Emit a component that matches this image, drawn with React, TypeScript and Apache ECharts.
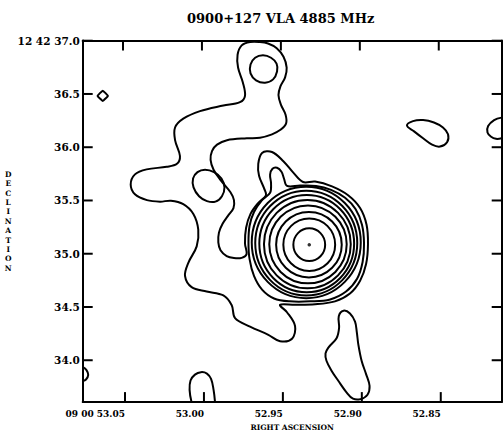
import React, { useEffect, useRef } from 'react';
import * as echarts from 'echarts';

const TITLE = '0900+127 VLA 4885 MHz';
const X_NAME = 'RIGHT ASCENSION';
const Y_NAME = 'DECLINATION';

// Axis extents (RA seconds, Dec arcsec)
const RA_MIN = 52.8114;
const RA_MAX = 53.0768;
const DEC_MIN = 33.607;
const DEC_MAX = 37.002;

const RA_TICKS = [53.05, 53.0, 52.95, 52.9, 52.85];
const DEC_TICKS = [37.0, 36.5, 36.0, 35.5, 35.0, 34.5, 34.0];

// Peak position [RA, Dec]
const PEAK = [[52.9333, 35.085]];

// Inner concentric contours: [RA centre, Dec centre, semi-axis in RA (s), semi-axis in Dec (")]
const RINGS = [
  [52.9333, 35.085, 0.01007, 0.154],
  [52.9333, 35.085, 0.01641, 0.246],
  [52.9335, 35.085, 0.02078, 0.307],
  [52.9341, 35.088, 0.02452, 0.366],
  [52.9345, 35.09, 0.02749, 0.415],
  [52.9349, 35.095, 0.03003, 0.457],
  [52.9352, 35.1, 0.03231, 0.492],
  [52.9352, 35.106, 0.03453, 0.523],
];

// Lowest contour: S-shaped band joined to the source
const OUTER = [
  [52.9708, 36.988], [52.9761, 36.956], [52.9787, 36.868], [52.9784, 36.748], [52.9754, 36.61],
  [52.974, 36.483], [52.9772, 36.423], [52.9877, 36.391], [53.0025, 36.339], [53.0131, 36.268],
  [53.0183, 36.185], [53.0183, 36.066], [53.0152, 35.918], [53.0171, 35.844], [53.0236, 35.816],
  [53.0363, 35.792], [53.0437, 35.745], [53.0464, 35.65], [53.0437, 35.558], [53.0361, 35.503],
  [53.0278, 35.489], [53.0209, 35.498], [53.0131, 35.466], [53.0067, 35.374], [53.0036, 35.226],
  [53.0046, 35.069], [53.0099, 34.915], [53.012, 34.792], [53.0078, 34.686], [52.9983, 34.645],
  [52.9877, 34.608], [52.9824, 34.516], [52.9803, 34.396], [52.9708, 34.316], [52.9592, 34.239],
  [52.9518, 34.179], [52.9442, 34.202], [52.9423, 34.322], [52.9474, 34.451], [52.9518, 34.52],
  [52.9423, 34.52], [52.9296, 34.525], [52.917, 34.553], [52.9075, 34.626], [52.9011, 34.746],
  [52.8973, 34.903], [52.8961, 35.088], [52.897, 35.272], [52.9011, 35.429], [52.9087, 35.549],
  [52.9189, 35.632], [52.9296, 35.678], [52.9372, 35.673], [52.9434, 35.761], [52.9497, 35.869],
  [52.9569, 35.955], [52.9632, 35.946], [52.9656, 35.844], [52.9651, 35.733], [52.9619, 35.613],
  [52.9607, 35.549], [52.9657, 35.475], [52.9705, 35.374], [52.9733, 35.244], [52.974, 35.097],
  [52.973, 34.995], [52.9761, 34.961], [52.981, 34.959], [52.9856, 34.977], [52.9895, 35.032],
  [52.9909, 35.106], [52.9905, 35.198], [52.9882, 35.281], [52.9848, 35.355], [52.9813, 35.429],
  [52.981, 35.503], [52.9832, 35.577], [52.9892, 35.687], [52.9939, 35.789], [52.9958, 35.881],
  [52.9949, 35.964], [52.9917, 36.024], [52.9854, 36.066], [52.9729, 36.084], [52.9645, 36.089],
  [52.9569, 36.121], [52.9518, 36.161], [52.948, 36.222], [52.9483, 36.305], [52.9512, 36.398],
  [52.9528, 36.49], [52.9515, 36.573], [52.9486, 36.656], [52.9476, 36.748], [52.9496, 36.85],
  [52.9539, 36.93], [52.9594, 36.974], [52.9645, 36.988],
];

// Second contour round the source, with its small finger
const SECOND = [
  [52.9718, 35.106], [52.9711, 35.263], [52.9683, 35.392], [52.9632, 35.503], [52.9581, 35.572],
  [52.9575, 35.66], [52.9581, 35.743], [52.9566, 35.798], [52.9537, 35.807], [52.9509, 35.77],
  [52.9493, 35.706], [52.9474, 35.637], [52.9391, 35.641], [52.929, 35.637], [52.9195, 35.6],
  [52.9106, 35.526], [52.904, 35.42], [52.8999, 35.272], [52.8986, 35.097], [52.8995, 34.922],
  [52.903, 34.765], [52.91, 34.645], [52.9201, 34.571], [52.9328, 34.553], [52.9455, 34.553],
  [52.9556, 34.58], [52.9632, 34.663], [52.9683, 34.792], [52.9711, 34.949],
];

const LOBE_LOOP = [
  [52.9626, 36.863], [52.9575, 36.84], [52.954, 36.785], [52.9537, 36.711], [52.9562, 36.637],
  [52.9613, 36.605], [52.967, 36.628], [52.9705, 36.693], [52.9705, 36.776], [52.9676, 36.84],
];

const WEST_LOOP = [
  [52.9993, 35.789], [52.9936, 35.766], [52.9889, 35.706], [52.987, 35.623], [52.9886, 35.54],
  [52.9927, 35.489], [52.9981, 35.494], [53.0031, 35.54], [53.0066, 35.623], [53.0069, 35.706],
  [53.0041, 35.766],
];

const EAST_BLOB = [
  [52.8714, 36.204], [52.8676, 36.245], [52.8612, 36.255], [52.8543, 36.232], [52.8486, 36.185],
  [52.8454, 36.121], [52.846, 36.047], [52.8505, 36.006], [52.8555, 36.024], [52.8612, 36.084],
  [52.8669, 36.149],
];

const EDGE_EAST = [
  [52.8115, 36.278], [52.8162, 36.255], [52.82, 36.199], [52.8204, 36.139], [52.8181, 36.098],
  [52.815, 36.079], [52.8115, 36.084],
];

const DIAMOND = [
  [53.0641, 36.531], [53.0608, 36.482], [53.0641, 36.435], [53.0674, 36.482],
];

const EDGE_WEST = [
  [53.0767, 33.935], [53.0744, 33.907], [53.0733, 33.861], [53.0747, 33.819], [53.0767, 33.805],
];

const SOUTH_ARCH = [
  [53.0079, 33.609], [53.0091, 33.722], [53.0085, 33.81], [53.0057, 33.865], [53.0019, 33.888],
  [52.9981, 33.875], [52.9955, 33.824], [52.9939, 33.722], [52.993, 33.609],
];

const SOUTH_BLOB = [
  [52.9116, 34.465], [52.9075, 34.439], [52.9043, 34.362], [52.9032, 34.267], [52.9022, 34.147],
  [52.9001, 33.993], [52.8973, 33.87], [52.8951, 33.759], [52.8964, 33.676], [52.9008, 33.635],
  [52.9056, 33.639], [52.9097, 33.699], [52.9148, 33.805], [52.9191, 33.9], [52.9224, 33.995],
  [52.923, 34.064], [52.9212, 34.119], [52.916, 34.207], [52.9144, 34.304], [52.9146, 34.414],
];

type Contour = { pts: number[][]; closed: boolean; smooth: number };

const CONTOURS: Contour[] = [
  { pts: OUTER, closed: true, smooth: 0.35 },
  { pts: SECOND, closed: true, smooth: 0.35 },
  { pts: LOBE_LOOP, closed: true, smooth: 0.4 },
  { pts: WEST_LOOP, closed: true, smooth: 0.4 },
  { pts: EAST_BLOB, closed: true, smooth: 0.4 },
  { pts: EDGE_EAST, closed: false, smooth: 0.4 },
  { pts: DIAMOND, closed: true, smooth: 0.1 },
  { pts: EDGE_WEST, closed: false, smooth: 0.4 },
  { pts: SOUTH_ARCH, closed: false, smooth: 0.4 },
  { pts: SOUTH_BLOB, closed: true, smooth: 0.35 },
];

const FONT = 'DejaVu Serif';

export default function App() {
  const ref = useRef<HTMLDivElement>(null);

  useEffect(() => {
    if (!ref.current) return;
    const chart = echarts.init(ref.current, null, { renderer: 'svg' });

    const raFmt = (v: number) => (Math.abs(v - 53.05) < 1e-6 ? '09 00 53.05' : v.toFixed(2));
    const decFmt = (v: number) => (Math.abs(v - 37.0) < 1e-6 ? '12 42 37.0' : v.toFixed(1));

    const axisLine = { show: true, onZero: false, lineStyle: { color: '#000', width: 2 } };
    const tickSeries = (data: number[][], size: number[], offset: number[]) => ({
      type: 'scatter',
      xAxisIndex: 0,
      yAxisIndex: 0,
      clip: false,
      silent: true,
      z: 8,
      data,
      symbol: 'rect',
      symbolSize: size,
      symbolOffset: offset,
      itemStyle: { color: '#000', opacity: 1 },
    });

    chart.setOption({
      animation: false,
      backgroundColor: '#fff',
      title: {
        text: TITLE,
        left: 182,
        top: 7,
        textStyle: { fontFamily: FONT, fontWeight: 'bold', fontSize: 13, color: '#000' },
      },
      grid: { left: 82.7, right: 1.3, top: 40.5, bottom: 27.5, containLabel: false },
      xAxis: [
        {
          type: 'value',
          position: 'bottom',
          inverse: true,
          min: RA_MIN,
          max: RA_MAX,
          axisLine,
          splitLine: { show: false },
          axisTick: { show: false },
          axisLabel: {
            show: true,
            customValues: RA_TICKS.slice(),
            formatter: raFmt,
            align: 'right',
            margin: 7,
            fontFamily: FONT,
            fontWeight: 'bold',
            fontSize: 9,
            color: '#000',
          },
          name: X_NAME,
          nameLocation: 'middle',
          nameGap: 16,
          nameTextStyle: { fontFamily: FONT, fontWeight: 'bold', fontSize: 7.5, color: '#000' },
        },
        {
          type: 'value',
          position: 'top',
          inverse: true,
          min: RA_MIN,
          max: RA_MAX,
          axisLine,
          splitLine: { show: false },
          axisTick: { show: false },
          axisLabel: { show: false },
        },
      ],
      yAxis: [
        {
          type: 'value',
          position: 'left',
          min: DEC_MIN,
          max: DEC_MAX,
          axisLine,
          splitLine: { show: false },
          axisTick: { show: false },
          axisLabel: {
            show: true,
            customValues: DEC_TICKS.slice(),
            formatter: decFmt,
            margin: 3,
            fontFamily: FONT,
            fontWeight: 'bold',
            fontSize: 10.5,
            color: '#000',
          },
          name: Y_NAME.split('').join('\n'),
          nameLocation: 'middle',
          nameRotate: 0,
          nameGap: 68,
          nameTextStyle: {
            fontFamily: FONT,
            fontWeight: 'bold',
            fontSize: 7.5,
            lineHeight: 9.4,
            color: '#000',
            align: 'center',
            verticalAlign: 'middle',
            padding: [0, 0, 32, 0],
          },
        },
        {
          type: 'value',
          position: 'right',
          min: DEC_MIN,
          max: DEC_MAX,
          axisLine,
          splitLine: { show: false },
          axisTick: { show: false },
          axisLabel: { show: false },
        },
      ],
      series: [
        {
          type: 'custom',
          name: 'contours',
          xAxisIndex: 0,
          yAxisIndex: 0,
          clip: false,
          silent: true,
          data: CONTOURS.map((c) => [c.pts[0][0], c.pts[0][1]]),
          encode: { x: 0, y: 1 },
          renderItem: (params: any, api: any) => {
            const c = CONTOURS[params.dataIndex];
            const points = c.pts.map((p) => api.coord(p));
            return {
              type: c.closed ? 'polygon' : 'polyline',
              shape: { points, smooth: c.smooth },
              style: { fill: 'none', stroke: '#000', lineWidth: 2 },
            };
          },
        },
        {
          type: 'custom',
          name: 'rings',
          xAxisIndex: 0,
          yAxisIndex: 0,
          silent: true,
          data: RINGS,
          encode: { x: 0, y: 1 },
          renderItem: (params: any, api: any) => {
            const c = api.coord([api.value(0), api.value(1)]);
            const s = api.size([api.value(2), api.value(3)]);
            return {
              type: 'ellipse',
              shape: { cx: c[0], cy: c[1], rx: Math.abs(s[0]), ry: Math.abs(s[1]) },
              style: { fill: 'none', stroke: '#000', lineWidth: 2 },
            };
          },
        },
        {
          type: 'scatter',
          name: 'peak',
          xAxisIndex: 0,
          yAxisIndex: 0,
          data: PEAK,
          symbol: 'circle',
          symbolSize: 3.5,
          itemStyle: { color: '#000' },
          silent: true,
        },
        tickSeries(RA_TICKS.map((v) => [v, DEC_MIN]), [2, 10], [0, -5]),
        tickSeries(RA_TICKS.map((v) => [v, DEC_MAX]), [2, 10], [-2, 5]),
        tickSeries(DEC_TICKS.map((v) => [RA_MAX, v]), [10, 2], [5, 0]),
        tickSeries(DEC_TICKS.map((v) => [RA_MIN, v]), [10, 2], [-5, 0]),
      ],
    });

    return () => chart.dispose();
  }, []);

  return (
    <div
      ref={ref}
      style={{ position: 'fixed', left: 0, top: 0, width: 503, height: 436, background: '#fff' }}
    />
  );
}
